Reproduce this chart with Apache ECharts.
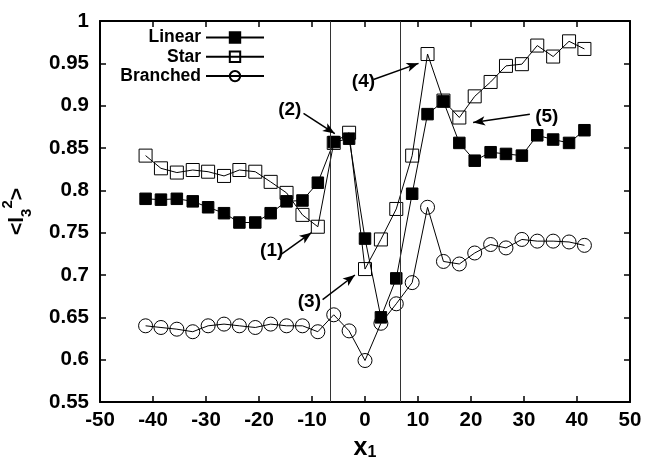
<!DOCTYPE html>
<html>
<head>
<meta charset="utf-8">
<script src="https://cdn.jsdelivr.net/npm/echarts@6/dist/echarts.min.js"></script>
<style>html,body{margin:0;padding:0;background:#fff;}#c{width:646px;height:461px;}</style>
</head>
<body>
<div id="c"></div>
<script>
const xValues = [-41.4,-38.5,-35.5,-32.5,-29.6,-26.6,-23.7,-20.7,-17.8,-14.8,-11.8,-8.9,-5.9,-3.0,0,3.0,5.9,8.9,11.8,14.8,17.8,20.7,23.7,26.6,29.6,32.5,35.5,38.5,41.4];
const linearValues = [0.790,0.789,0.790,0.787,0.780,0.773,0.762,0.762,0.773,0.787,0.788,0.809,0.857,0.861,0.743,0.650,0.696,0.796,0.890,0.905,0.856,0.835,0.845,0.843,0.841,0.865,0.860,0.856,0.871];
const starValues = [0.841,0.826,0.821,0.824,0.822,0.817,0.824,0.822,0.810,0.797,0.771,0.757,0.856,0.868,0.707,0.742,0.778,0.841,0.961,0.906,0.886,0.911,0.928,0.947,0.949,0.971,0.958,0.976,0.967];
const branchedValues = [0.640,0.638,0.636,0.633,0.640,0.642,0.640,0.638,0.642,0.640,0.640,0.633,0.653,0.634,0.599,0.643,0.666,0.691,0.780,0.716,0.713,0.726,0.736,0.732,0.742,0.740,0.740,0.739,0.735];
const seriesNames = ['Linear','Star','Branched'];
const verticalLines = [-6.6, 6.6];
const annotLabels = ['(1)','(2)','(3)','(4)','(5)'];
const annotTextAt = [[-17.6,0.729],[-14.2,0.895],[-10.5,0.668],[-0.3,0.928],[34.3,0.887]];
const annotArrowFrom = [[-15.7,0.725],[-11.6,0.891],[-8.0,0.671],[1.6,0.931],[31.1,0.890]];
const annotArrowTo = [[-10.1,0.750],[-5.7,0.867],[-1.9,0.700],[10.1,0.950],[20.4,0.880]];

const FONT = '"Liberation Sans", Arial, sans-serif';
const pair = v => xValues.map((x,i)=>[x,v[i]]);

const chart = echarts.init(document.getElementById('c'), null, {renderer:'canvas'});

function legendFor(i){
  return {
    data:[seriesNames[i]], orient:'horizontal', align:'right',
    right: 381, top: 28 + i*19.3, padding:0,
    itemWidth:58, itemHeight:13, itemGap:0,
    textStyle:{fontFamily:FONT, fontWeight:'bold', fontSize:17.5, color:'#000', lineHeight:19},
    selectedMode:false
  };
}
const axisCommon = {
  type:'value', min:-50, max:50, interval:10
};
const option = {
  animation:false,
  backgroundColor:'#fff',
  grid:{left:100, right:16, top:21, bottom:59, containLabel:false, outerBoundsMode:'none'},
  legend:[legendFor(0), legendFor(1), legendFor(2)],
  xAxis:[
    Object.assign({}, axisCommon, {
      position:'bottom',
      name:'{x|x}{s|1}', nameLocation:'middle', nameGap:28,
      nameTextStyle:{rich:{
        x:{fontFamily:FONT, fontWeight:'bold', fontSize:25, color:'#000', verticalAlign:'bottom', lineHeight:30},
        s:{fontFamily:FONT, fontWeight:'bold', fontSize:16, color:'#000', verticalAlign:'bottom', lineHeight:22}
      }},
      splitLine:{show:false},
      axisLine:{onZero:false, lineStyle:{color:'#000', width:2}},
      axisTick:{inside:true, length:6, lineStyle:{color:'#000', width:1.5}},
      axisLabel:{fontFamily:FONT, fontWeight:'bold', fontSize:20.5, color:'#000', margin:8}
    }),
    Object.assign({}, axisCommon, {
      position:'top',
      splitLine:{show:false},
      axisLine:{onZero:false, lineStyle:{color:'#000', width:2}},
      axisTick:{inside:true, length:6, lineStyle:{color:'#000', width:1.5}},
      axisLabel:{show:false}
    })
  ],
  yAxis:[
    {
      type:'value', min:0.55, max:1, interval:0.05, position:'left',
      name:'{n|<l}{b|3}{p|2}{n|>}', nameLocation:'middle', nameGap:66, nameRotate:90,
      nameTextStyle:{rich:{
        n:{fontFamily:FONT, fontWeight:'bold', fontSize:21, color:'#000', lineHeight:34, verticalAlign:'middle'},
        b:{fontFamily:FONT, fontWeight:'bold', fontSize:15, color:'#000', lineHeight:34, verticalAlign:'bottom'},
        p:{fontFamily:FONT, fontWeight:'bold', fontSize:15, color:'#000', lineHeight:34, verticalAlign:'top'}
      }},
      splitLine:{show:false},
      axisLine:{onZero:false, lineStyle:{color:'#000', width:2}},
      axisTick:{inside:true, length:6, lineStyle:{color:'#000', width:1.5}},
      axisLabel:{fontFamily:FONT, fontWeight:'bold', fontSize:20.5, color:'#000', margin:11}
    },
    {
      type:'value', min:0.55, max:1, interval:0.05, position:'right',
      splitLine:{show:false},
      axisLine:{onZero:false, lineStyle:{color:'#000', width:2}},
      axisTick:{inside:true, length:6, lineStyle:{color:'#000', width:1.5}},
      axisLabel:{show:false}
    }
  ],
  series:[
    {
      name:'Linear', type:'line', data:pair(linearValues),
      symbol:'rect', symbolSize:11.5,
      lineStyle:{color:'#000', width:1},
      itemStyle:{color:'#000', borderColor:'#000', borderWidth:1},
      z:3
    },
    {
      name:'Star', type:'line', data:pair(starValues),
      symbol:'rect', symbolSize:13,
      lineStyle:{color:'#000', width:1},
      itemStyle:{color:'rgba(255,255,255,0)', borderColor:'#000', borderWidth:1},
      z:2
    },
    {
      name:'Branched', type:'line', data:pair(branchedValues),
      symbol:'circle', symbolSize:14,
      lineStyle:{color:'#000', width:1},
      itemStyle:{color:'rgba(255,255,255,0)', borderColor:'#000', borderWidth:1},
      z:2
    },
    {
      name:'annot', type:'line', data:[], silent:true,
      markLine:{
        silent:true, animation:false,
        symbol:['none','none'],
        label:{show:false},
        lineStyle:{color:'#333', width:1, type:'solid'},
        data: verticalLines.map(v=>({xAxis:v}))
      },
      markPoint:{
        silent:true,
        symbol:'circle', symbolSize:1,
        itemStyle:{color:'rgba(0,0,0,0)'},
        label:{show:true, position:'inside', formatter:'{b}', fontFamily:FONT, fontWeight:'bold', fontSize:19, color:'#000'},
        data: annotLabels.map((t,i)=>({name:t, coord:annotTextAt[i]}))
      }
    },
    {
      name:'arrows', type:'line', data:[], silent:true,
      markLine:{
        silent:true, animation:false,
        symbol:['none','arrow'], symbolSize:[7,12],
        label:{show:false},
        lineStyle:{color:'#000', width:1.5, type:'solid'},
        data: annotLabels.map((t,i)=>[{coord:annotArrowFrom[i]},{coord:annotArrowTo[i]}])
      }
    }
  ]
};
chart.setOption(option);
</script>
</body>
</html>
